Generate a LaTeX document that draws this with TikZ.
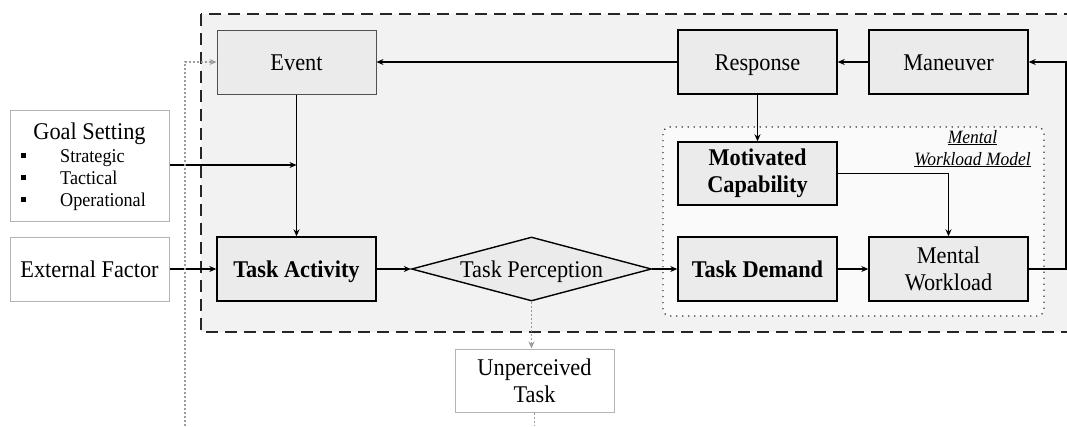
\documentclass[tikz,border=0pt]{standalone}
\usepackage{fontspec}
\setmainfont{Liberation Serif}[FakeStretch=0.93]
\usetikzlibrary{shapes.geometric,arrows.meta,calc}
\definecolor{bgfill}{HTML}{F2F2F2}
\definecolor{boxfill}{HTML}{EBEBEB}
\definecolor{lightedge}{HTML}{B4B4B4}
\definecolor{dotgray}{HTML}{9C9C9C}
\definecolor{evedge}{HTML}{505050}
\begin{document}
\begin{tikzpicture}[x=1pt,y=-1pt,
  mainfont/.style={font=\fontsize{24}{27}\selectfont},
  oneline/.style={text height=20pt, text depth=4pt},
  mainbox/.style={mainfont, draw=black, line width=1.4pt, fill=boxfill, minimum width=159pt, minimum height=64pt, inner sep=0pt, align=center},
  evbox/.style={mainbox, draw=evedge, line width=1pt},
  plainbox/.style={mainfont, draw=lightedge, line width=1pt, fill=white, minimum width=159pt, minimum height=64pt, inner sep=0pt, align=center},
  arr/.style={-{Stealth[length=7pt,width=6pt]}, line width=1.3pt, black},
  grayarr/.style={-{Stealth[length=7pt,width=6pt]}, line width=1.4pt, dotgray, dash pattern=on 2pt off 2pt},
  grayline/.style={line width=1.4pt, dotgray, dash pattern=on 2pt off 2pt},
  bulletsq/.style={fill=black, minimum size=5pt, inner sep=0pt},
  listtext/.style={font=\fontsize{19.5}{22}\selectfont, anchor=base west, inner sep=0pt},
  modeltext/.style={font=\fontsize{18.8}{22}\selectfont\itshape, anchor=base, inner sep=0pt}
]
\useasboundingbox (0,0) rectangle (1067,426);
% outer dashed region
\draw[fill=bgfill, draw=black!85, line width=2.5pt, dash pattern=on 12pt off 7pt] (201,14) rectangle (1090,332);
% mental workload model region
\draw[fill=white!60!bgfill, draw=black!80, line width=1.3pt, dash pattern=on 1.2pt off 4.8pt, rounded corners=7pt] (663,127) rectangle (1044,316);
\node[modeltext] (mlab1) at (972.5,143) {\underline{Mental}};
\node[modeltext] (mlab2) at (972.5,165) {\underline{Workload Model}};

% nodes
\node[evbox, oneline] (ev) at (296.5,62) {Event};
\node[mainbox, oneline] (rsp) at (757.5,62) {Response};
\node[mainbox, oneline] (man) at (948.5,62) {Maneuver};
\node[mainbox, font=\fontsize{24}{27}\selectfont\bfseries, minimum height=63pt] (mc) at (757.5,173.5) {Motivated\\Capability};
\node[mainbox, oneline, font=\fontsize{24}{27}\selectfont\bfseries] (ta) at (296.5,269) {Task Activity};
\node[diamond, aspect=3.75, draw=black, line width=1.4pt, fill=boxfill, minimum width=240pt, minimum height=64pt, inner sep=0pt, mainfont, oneline] (tp) at (531.5,269) {Task Perception};
\node[mainbox, oneline, font=\fontsize{24}{27}\selectfont\bfseries] (td) at (757.5,269) {Task Demand};
\node[mainbox] (mw) at (948.5,269) {Mental\\Workload};
\node[plainbox, oneline] (ef) at (89.5,269) {External Factor};
\node[plainbox, minimum height=63pt] (ut) at (534.5,380.5) {Unperceived\\Task};

% goal setting box
\node[plainbox, minimum height=111pt] (gs) at (89.5,165.5) {};
\node[mainfont, anchor=base, inner sep=0pt] (gst) at (89.5,139) {Goal Setting};
\node[bulletsq] (b1) at (23.5,155.5) {};
\node[bulletsq] (b2) at (23.5,177.5) {};
\node[bulletsq] (b3) at (23.5,199.5) {};
\node[listtext] (l1) at (60,162) {Strategic};
\node[listtext] (l2) at (60,184) {Tactical};
\node[listtext] (l3) at (60,206) {Operational};

% coordinates
\coordinate (rt) at (1066,269);
\coordinate (rtop) at (1066,62);
\coordinate (dl) at (185,426);
\coordinate (dlt) at (185,62);
\coordinate (ub) at (534.5,426);

% connectors
\draw[arr] (man.west) -- (rsp.east);
\draw[arr] (rsp.west) -- (ev.east);
\draw[arr] (rsp.south) -- (mc.north);
\draw[arr] (mc.east) -| (mw.north);
\draw[arr] (td.east) -- (mw.west);
\draw[arr] (mw.east) -- (rt) -- (rtop) -- (man.east);
\draw[arr] (ev.south) -- (ta.north);
\draw[arr] (gs.east |- 0,165) -- (ev.south |- 0,165);
\draw[arr] (ef.east) -- (ta.west);
\draw[arr] (ta.east) -- (tp.west);
\draw[arr] (tp.east) -- (td.west);
\draw[grayarr] (tp.south) -- (tp.south |- ut.north);
\draw[grayline] (ut.south) -- (ub);
\draw[grayarr] (dl) -- (dlt) -- (ev.west);
\end{tikzpicture}
\end{document}
